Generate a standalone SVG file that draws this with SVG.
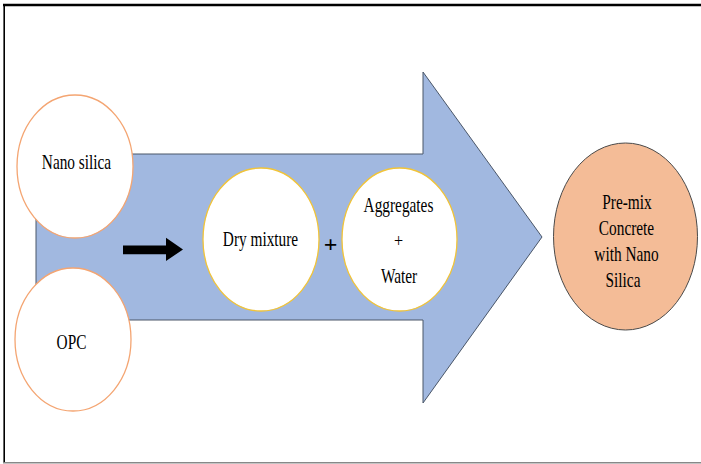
<svg xmlns="http://www.w3.org/2000/svg" width="701" height="464" viewBox="0 0 701 464">
<style>
text{font-family:"Liberation Serif","DejaVu Serif",serif}
.lbl{font-size:21px;fill:#000;text-anchor:middle}
.src{fill:#fff;stroke:#F4A572;stroke-width:1.3}
.mid{fill:#fff;stroke:#F2C438;stroke-width:1.3}
</style>
<rect x="0" y="0" width="701" height="464" fill="#fff"/>
<line x1="3" y1="5" x2="701" y2="5" stroke="#000" stroke-width="2.5"/>
<line x1="4.2" y1="4" x2="4.2" y2="463" stroke="#000" stroke-width="1.6"/>
<line x1="3" y1="462.7" x2="701" y2="462.7" stroke="#888" stroke-width="1.5"/>

<g id="connectors">
<polygon id="big-arrow" points="36,154 423,154 423,72 542,237 423,403 423,320 36,320" fill="#A1B8E0" stroke="#4A5668" stroke-width="1"/>
<polygon id="small-arrow" points="123,245.5 166,245.5 166,237.7 183,249.5 166,261 166,254.3 123,254.3" fill="#000"/>
</g>

<g id="nano-silica">
<ellipse class="src" cx="75" cy="166.5" rx="58" ry="71.5"/>
<text class="lbl" font-family="Liberation Serif, serif" transform="translate(76.5,169) scale(0.73,1)">Nano silica</text>
</g>
<g id="opc">
<ellipse class="src" cx="73" cy="339.5" rx="58" ry="71.5"/>
<text class="lbl" transform="translate(71.5,349) scale(0.73,1)">OPC</text>
</g>
<g id="dry-mixture">
<ellipse class="mid" cx="261" cy="239.5" rx="58" ry="71.5"/>
<text class="lbl" transform="translate(260.5,246) scale(0.73,1)">Dry mixture</text>
</g>
<g id="plus">
<text x="330.5" y="251.5" style="font-size:24px;font-weight:bold;text-anchor:middle">+</text>
</g>
<g id="aggregates-water">
<ellipse class="mid" cx="399.5" cy="239.5" rx="57.5" ry="71.5"/>
<text class="lbl" transform="translate(398.5,211.7) scale(0.73,1)">Aggregates</text>
<text class="lbl" style="font-size:18px" transform="translate(398.5,246.7) scale(0.9,1)">+</text>
<text class="lbl" transform="translate(399,283.3) scale(0.73,1)">Water</text>
</g>
<g id="premix-concrete">
<ellipse cx="625.5" cy="236.5" rx="72" ry="93.5" fill="#F4BC97" stroke="#4A4A4A" stroke-width="1"/>
<text class="lbl" transform="translate(627,209.3) scale(0.73,1)">Pre-mix</text>
<text class="lbl" transform="translate(626.5,235) scale(0.73,1)">Concrete</text>
<text class="lbl" transform="translate(626.5,260.7) scale(0.73,1)">with Nano</text>
<text class="lbl" transform="translate(623,286.7) scale(0.73,1)">Silica</text>
</g>
</svg>
